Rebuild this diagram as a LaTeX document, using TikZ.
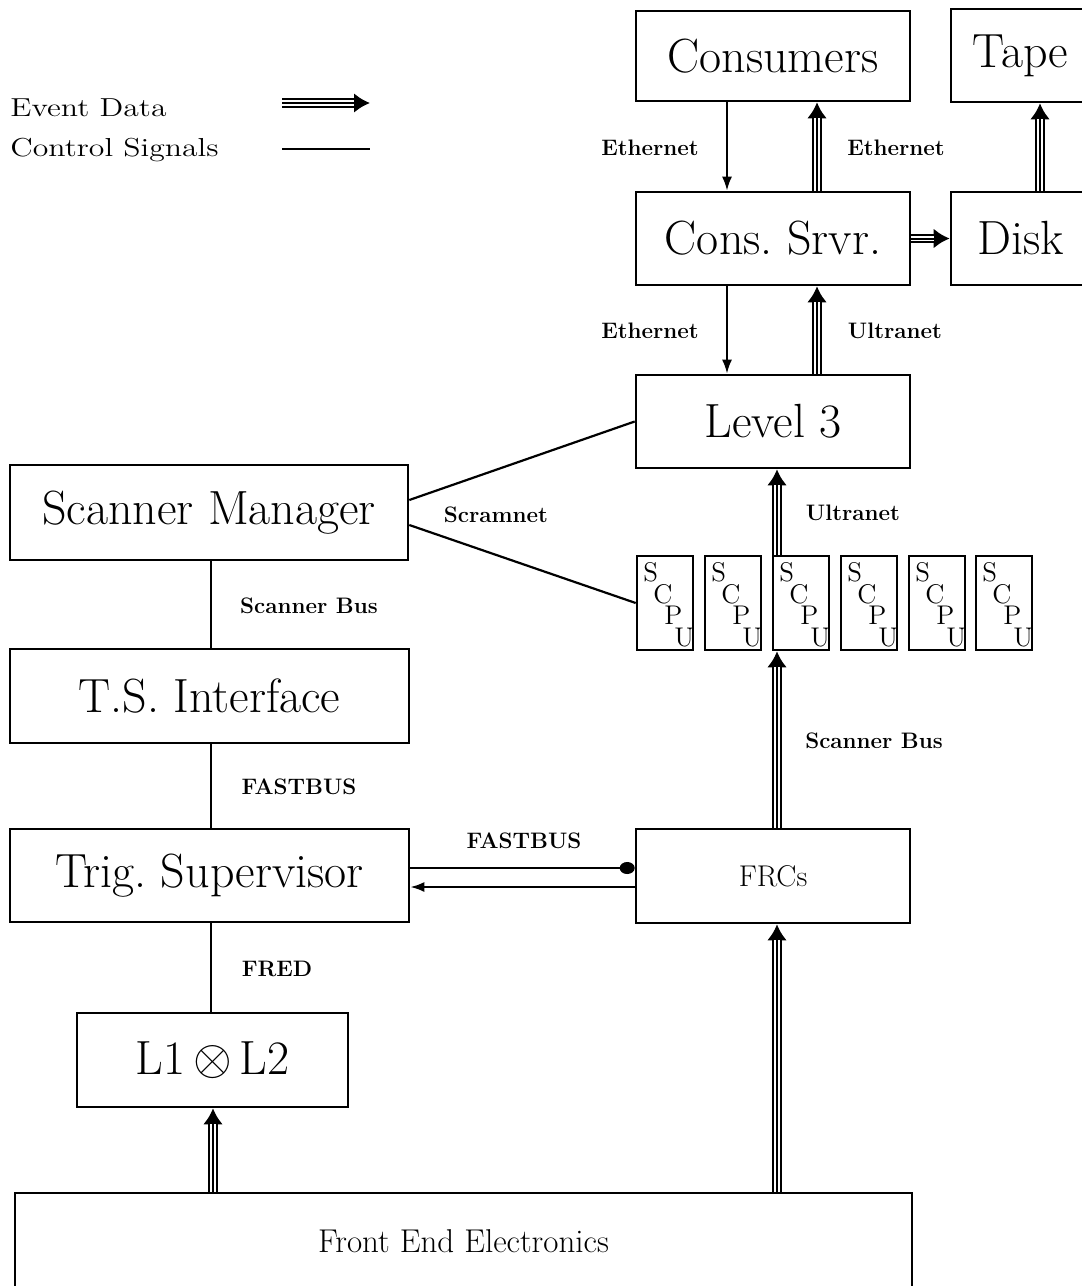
\documentclass[tikz,border=0pt]{standalone}
\usetikzlibrary{arrows.meta,calc}
\begin{document}
\begin{tikzpicture}[x=0.5pt,y=-0.5pt,
  box/.style={draw, line width=1.3pt, inner sep=0pt, font=\fontsize{24}{28}\selectfont},
  scpu/.style={draw, line width=1.3pt, inner sep=0pt, minimum width=28pt, minimum height=47pt},
  scl/.style={inner sep=0pt, align=left, font=\fontsize{13.5}{10.8}\selectfont},
  lbl/.style={inner sep=0pt, font=\bfseries\fontsize{11.2}{13}\selectfont},
  leg/.style={inner sep=0pt, font=\fontsize{13}{15}\selectfont},
  ctrl/.style={line width=1.1pt},
  ctrlarr/.style={line width=1.1pt, -{Latex[length=7pt,width=5pt]}},
  evt/.style={line width=4.6pt, -{Latex[length=8pt,width=10pt]},
    postaction={draw=white, line width=2.6pt, -, shorten >=8pt},
    postaction={draw=black, line width=1pt, -, shorten >=7.5pt}},
]
\useasboundingbox (0,0) rectangle (1082,1286);
\clip (0,0) rectangle (1082,1286);

% boxes
\node[box, minimum width=137pt, minimum height=45pt] (cons) at (773,56) {Consumers};
\node[box, minimum width=69.5pt, minimum height=46.5pt] (tape) at (1020.5,55.5) {Tape};
\node[box, minimum width=137pt, minimum height=46.5pt] (srv) at (773,238.5) {Cons.\ Srvr.};
\node[box, minimum width=69.5pt, minimum height=46.5pt] (disk) at (1020.5,238.5) {Disk};
\node[box, minimum width=137pt, minimum height=46.5pt] (l3) at (773,421.5) {Level 3};
\node[box, minimum width=199pt, minimum height=47.5pt] (sm) at (209,512.5) {Scanner Manager};
\node[box, minimum width=199.5pt, minimum height=47pt] (tsi) at (209.5,696) {T.S. Interface};
\node[box, minimum width=199.5pt, minimum height=46.5pt] (ts) at (209.5,875.5) {Trig.\ Supervisor};
\node[box, font=\fontsize{15}{18}\selectfont, minimum width=137pt, minimum height=47pt] (frc) at (773,876) {FRCs};
\node[box, minimum width=135.5pt, minimum height=47pt] (l12) at (212.5,1060) {L1\,$\otimes$\,L2};
\node[box, font=\fontsize{16.5}{19}\selectfont, minimum width=448.5pt, minimum height=48.5pt] (fe) at (463.5,1241.5) {Front End Electronics};

% SCPU boxes
\foreach \i/\cx in {1/665,2/733,3/801,4/869,5/937,6/1004} {
  \node[scpu] (sc\i) at (\cx,603) {};
  \node[scl, anchor=north west] (sct\i) at (\cx-22,562)
    {S\\\hspace*{5pt}C\\\hspace*{10.5pt}P\\\hspace*{15.5pt}U};
}

% helper coordinates
\coordinate (xL) at (727,0);
\coordinate (xR) at (817,0);
\coordinate (xU) at (777,0);
\coordinate (xT) at (1040,0);
\coordinate (xS) at (211,0);
\coordinate (xF) at (213,0);
\coordinate (yA) at (0,868);
\coordinate (yB) at (0,887);

% connectors
\draw[ctrlarr] (xL |- cons.south) -- (xL |- srv.north);
\draw[evt] (xR |- srv.north) -- (xR |- cons.south);
\draw[evt] (srv.east) -- (disk.west);
\draw[evt] (xT |- disk.north) -- (xT |- tape.south);
\draw[ctrlarr] (xL |- srv.south) -- (xL |- l3.north);
\draw[evt] (xR |- l3.north) -- (xR |- srv.south);
\draw[ctrl] ([yshift=6.25pt]sm.east) -- (l3.west);
\draw[ctrl] ([yshift=-6.25pt]sm.east) -- (sc1.west);
\draw[evt] (xU |- sc3.north) -- (xU |- l3.south);
\draw[evt] (xU |- frc.north) -- (xU |- sc3.south);
\draw[ctrl] (xS |- sm.south) -- (xS |- tsi.north);
\draw[ctrl] (xS |- tsi.south) -- (xS |- ts.north);
\draw[ctrl] (xS |- ts.south) -- (xS |- l12.north);
\draw[evt] (xF |- fe.north) -- (xF |- l12.south);
\draw[evt] (xU |- fe.north) -- (xU |- frc.south);
\draw[line width=1.1pt, -{Circle[length=7.5pt,width=6pt]}] (ts.east |- yA) -- (frc.west |- yA);
\draw[ctrlarr] (frc.west |- yB) -- (ts.east |- yB);

% connector labels
\node[lbl] (e1) at (650,148) {Ethernet};
\node[lbl] (e2) at (896,148) {Ethernet};
\node[lbl] (e3) at (650,331) {Ethernet};
\node[lbl] (u1) at (895,331) {Ultranet};
\node[lbl] (u2) at (853,513) {Ultranet};
\node[lbl] (sn) at (496,515) {Scramnet};
\node[lbl] (sb1) at (309,606) {Scanner Bus};
\node[lbl] (sb2) at (874,741) {Scanner Bus};
\node[lbl] (fb1) at (299,787) {FASTBUS};
\node[lbl] (fb2) at (524,841) {FASTBUS};
\node[lbl] (fr) at (277,969) {FRED};

% legend
\node[leg, anchor=base west] (legA) at (10,116) {\scalebox{1.22}[1]{Event Data}};
\node[leg, anchor=base west] (legB) at (10,156) {\scalebox{1.22}[1]{Control Signals}};
\coordinate (la1) at (282,103);
\coordinate (la2) at (370,103);
\coordinate (lb1) at (282,149);
\coordinate (lb2) at (370,149);
\draw[evt] (la1) -- (la2);
\draw[ctrl] (lb1) -- (lb2);
\end{tikzpicture}
\end{document}
